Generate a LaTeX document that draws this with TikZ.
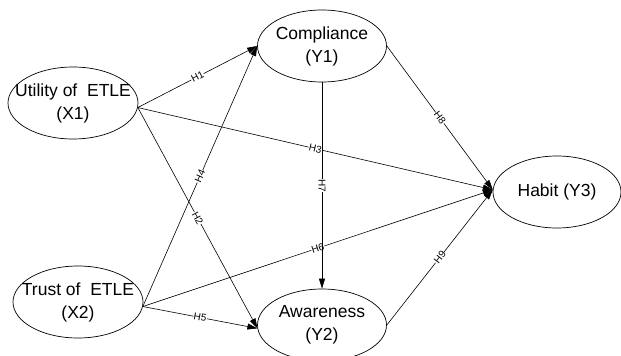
\documentclass[tikz,border=0pt]{standalone}
\usepackage{fontspec}
\setmainfont{Liberation Sans}
\usetikzlibrary{shapes.geometric,arrows.meta}
\newcommand\mkc[1]{\makebox[0pt]{#1}}
\begin{document}
\begin{tikzpicture}[x=1pt,y=-1pt,
  var/.style={ellipse,draw,line width=0.7pt,inner sep=0pt,minimum width=130pt,minimum height=72pt,align=center,font=\fontsize{17.5}{23}\selectfont},
  link/.style={draw,line width=0.6pt},
  arr/.style={-{Triangle[length=10pt,width=6pt]}},
  hl/.style={fill=white,inner sep=0.4pt,font=\fontsize{10}{10}\selectfont,sloped,pos=0.5}
]
\clip (0,0) rectangle (621,356);
\node[var] (util) at (73,103) {\mkc{Utility of\ \ ETLE}\\ \mkc{(X1)}};
\node[var] (trust) at (78,302) {\mkc{Trust of\ \ ETLE}\\ \mkc{(X2)}};
\node[var,minimum width=129pt] (comp) at (322,46) {\mkc{Compliance}\\ \mkc{(Y1)}};
\node[var,minimum width=129pt] (aware) at (322,325) {\mkc{Awareness}\\ \mkc{(Y2)}};
\node[var,minimum width=128pt] (habit) at (557,192) {\mkc{Habit (Y3)}};
\draw[link,arr] (util.-4) -- node[hl]{H1} (comp.west);
\draw[link,arr] (util.-4) -- node[hl]{H3} (habit.178);
\draw[link,arr] (util.-4) -- node[hl]{H2} (aware.183);
\draw[link,arr] (trust.-4) -- node[hl]{H4} (comp.west);
\draw[link,arr] (trust.-4) -- node[hl]{H6} (habit.178);
\draw[link,arr] (trust.-4) -- node[hl]{H5} (aware.183);
\draw[link,arr] (comp.south) -- node[hl]{H7} (aware.north);
\draw[link,arr] (comp.east) -- node[hl]{H8} (habit.178);
\draw[link,arr] (aware.east) -- node[hl]{H9} (habit.178);
\end{tikzpicture}
\end{document}
